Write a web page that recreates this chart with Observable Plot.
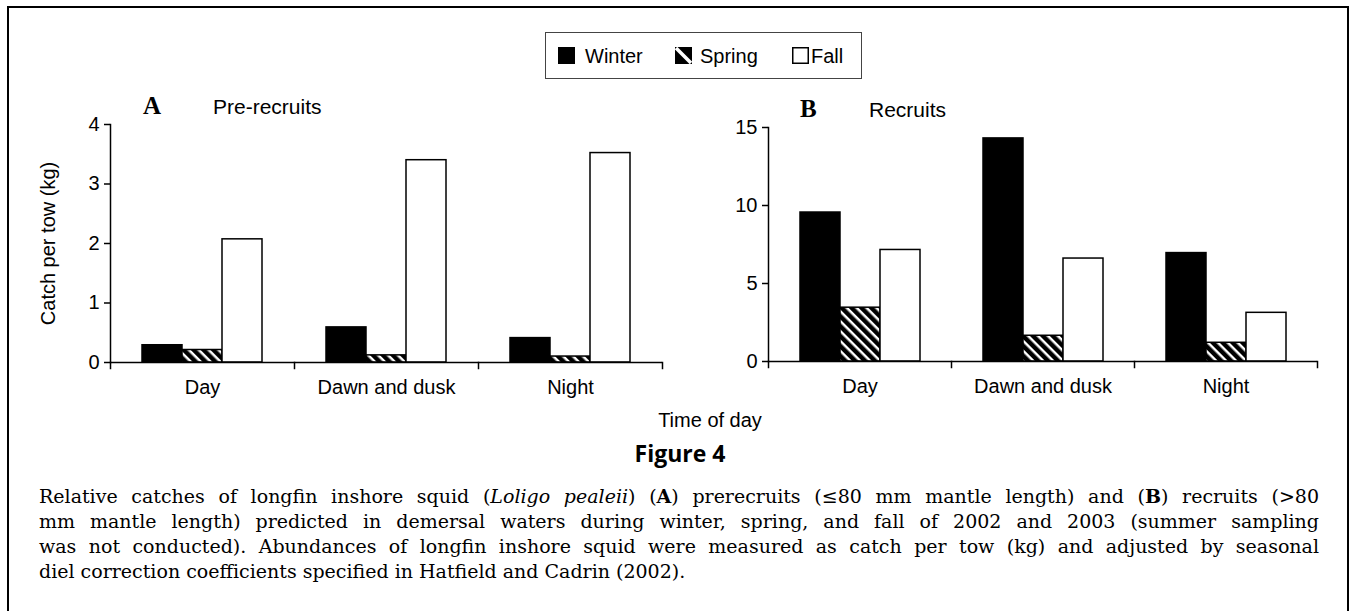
<!DOCTYPE html>
<html>
<head>
<meta charset="utf-8">
<script src="https://cdn.jsdelivr.net/npm/d3@7"></script>
<script src="https://cdn.jsdelivr.net/npm/@observablehq/plot@0.6"></script>
<style>
  html, body { margin: 0; padding: 0; background: white; }
  body { width: 1351px; height: 611px; position: relative; overflow: hidden; font-family: "Liberation Sans", Arial, sans-serif; color: black; }
  .abs { position: absolute; white-space: nowrap; line-height: 1; }
  #frameBox { position: absolute; left: 7px; top: 6px; width: 1342px; height: 700px; border: 2.5px solid black; box-sizing: border-box; }
  #legend { position: absolute; left: 545px; top: 32px; width: 317px; height: 47px; border: 1px solid #444; box-sizing: border-box; }
  .cap { position: absolute; left: 39px; width: 1280px; font-family: "DejaVu Serif", serif; font-size: 19px; line-height: 25px; white-space: nowrap; }
  .just { text-align: justify; text-align-last: justify; white-space: normal; height: 25px; overflow: visible; }
</style>
</head>
<body>
<svg width="0" height="0" style="position:absolute">
  <defs>
    <pattern id="stripes" patternUnits="userSpaceOnUse" width="7" height="7" patternTransform="rotate(-45)">
      <rect width="7" height="7" fill="white"></rect>
      <rect width="4.5" height="7" fill="black"></rect>
    </pattern>
  </defs>
</svg>
<div id="frameBox"></div>
<div id="legend"></div>
<div id="panelA" style="position:absolute;left:0;top:90px"></div>
<div id="panelB" style="position:absolute;left:700px;top:90px"></div>
<div class="abs" style="left:143px;top:93px;font-family:'Liberation Serif',serif;font-weight:bold;font-size:25px">A</div>
<div class="abs" style="left:213px;top:96px;font-size:21px">Pre-recruits</div>
<div class="abs" style="left:800px;top:96px;font-family:'Liberation Serif',serif;font-weight:bold;font-size:25px">B</div>
<div class="abs" style="left:869px;top:99px;font-size:21px">Recruits</div>
<div class="abs" style="left:710px;top:410px;font-size:20px;transform:translateX(-50%)">Time of day</div>
<div class="abs" style="left:680px;top:442px;font-family:'Open Sans',sans-serif;font-weight:bold;font-size:23px;transform:translateX(-50%)">Figure 4</div>
<div class="cap just" style="top:484px">Relative catches of longfin inshore squid (<i>Loligo pealeii</i>) (<b>A</b>) prerecruits (≤80 mm mantle length) and (<b>B</b>) recruits (&gt;80</div>
<div class="cap just" style="top:509px">mm mantle length) predicted in demersal waters during winter, spring, and fall of 2002 and 2003 (summer sampling</div>
<div class="cap just" style="top:534px">was not conducted). Abundances of longfin inshore squid were measured as catch per tow (kg) and adjusted by seasonal</div>
<div class="cap" style="top:559px">diel correction coefficients specified in Hatfield and Cadrin (2002).</div>

<script>
// ---- data ----
const categories = ["Day", "Dawn and dusk", "Night"];
const seasons = ["Winter", "Spring", "Fall"];
const seasonFills = ["black", "url(#stripes)", "white"];

const preWinter = [0.29, 0.59, 0.41];
const preSpring = [0.21, 0.12, 0.10];
const preFall = [2.07, 3.40, 3.52];

const recWinter = [9.55, 14.3, 6.95];
const recSpring = [3.45, 1.65, 1.20];
const recFall = [7.15, 6.60, 3.12];

const preTicks = [0, 1, 2, 3, 4];
const recTicks = [0, 5, 10, 15];

function toRows(w, s, f) {
  const series = [w, s, f];
  return categories.flatMap((c, i) => seasons.map((se, j) => ({time: c, season: se, value: series[j][i]})));
}

function panel(rows, opts) {
  const innerH = opts.height - opts.marginTop - opts.marginBottom;
  return Plot.plot({
    width: opts.width,
    height: opts.height,
    marginLeft: opts.marginLeft,
    marginRight: opts.marginRight,
    marginTop: opts.marginTop,
    marginBottom: opts.marginBottom,
    style: {fontFamily: "'Liberation Sans', Arial, sans-serif", fontSize: "20px", color: "black", background: "transparent", overflow: "visible"},
    fx: {domain: categories, padding: 0, label: null, axis: null},
    x: {domain: seasons, paddingInner: 0, paddingOuter: 0.75, axis: null},
    y: {domain: opts.yDomain, axis: null},
    color: {domain: seasons, range: seasonFills},
    marks: [
      Plot.barY(rows, {fx: "time", x: "season", y: "value", fill: "season", stroke: "black", strokeWidth: 1.5, inset: 0}),
      Plot.ruleY([0], {stroke: "black", strokeWidth: 1.5}),
      Plot.frame({anchor: "left", facetAnchor: "left", stroke: "black", strokeWidth: 1.5}),
      Plot.frame({anchor: "left", insetTop: innerH, insetBottom: -6, stroke: "black", strokeWidth: 1.5}),
      Plot.frame({anchor: "right", facetAnchor: "right", insetTop: innerH, insetBottom: -6, stroke: "black", strokeWidth: 1.5}),
      Plot.axisY({ticks: opts.yTicks, tickSize: 6, tickPadding: 5, strokeWidth: 1.5, tickFormat: d => String(d),
        label: opts.yLabel, labelAnchor: "center", labelArrow: "none", labelOffset: 70}),
      Plot.axisFx({anchor: "bottom", tickSize: 0, tickPadding: 17, label: null})
    ]
  });
}

document.getElementById("panelA").appendChild(panel(toRows(preWinter, preSpring, preFall), {
  width: 670, height: 317, marginLeft: 110, marginRight: 8, marginTop: 34, marginBottom: 45,
  yDomain: [0, 4], yTicks: preTicks, yLabel: "Catch per tow (kg)"
}));
document.getElementById("panelB").appendChild(panel(toRows(recWinter, recSpring, recFall), {
  width: 627, height: 317, marginLeft: 68, marginRight: 10, marginTop: 37, marginBottom: 46,
  yDomain: [0, 15], yTicks: recTicks, yLabel: null
}));

// ---- legend ----
const legend = document.getElementById("legend");
const swatchX = [12, 129, 246];
const textX = [39, 154, 265];
seasons.forEach((s, i) => {
  const sw = document.createElementNS("http://www.w3.org/2000/svg", "svg");
  sw.setAttribute("width", 17); sw.setAttribute("height", 17);
  sw.style.position = "absolute"; sw.style.left = swatchX[i] + "px"; sw.style.top = "14px";
  if (i === 0) sw.innerHTML = '<rect width="17" height="17" fill="black"/>';
  else if (i === 1) sw.innerHTML = '<rect width="17" height="17" fill="black"/><line x1="1" y1="1" x2="16" y2="16" stroke="white" stroke-width="3.5"/>';
  else sw.innerHTML = '<rect x="0.75" y="0.75" width="15.5" height="15.5" fill="white" stroke="black" stroke-width="1.5"/>';
  legend.appendChild(sw);
  const t = document.createElement("div");
  t.className = "abs"; t.style.left = textX[i] + "px"; t.style.top = "13px"; t.style.fontSize = "20px";
  t.textContent = s;
  legend.appendChild(t);
});
</script>
</body>
</html>
